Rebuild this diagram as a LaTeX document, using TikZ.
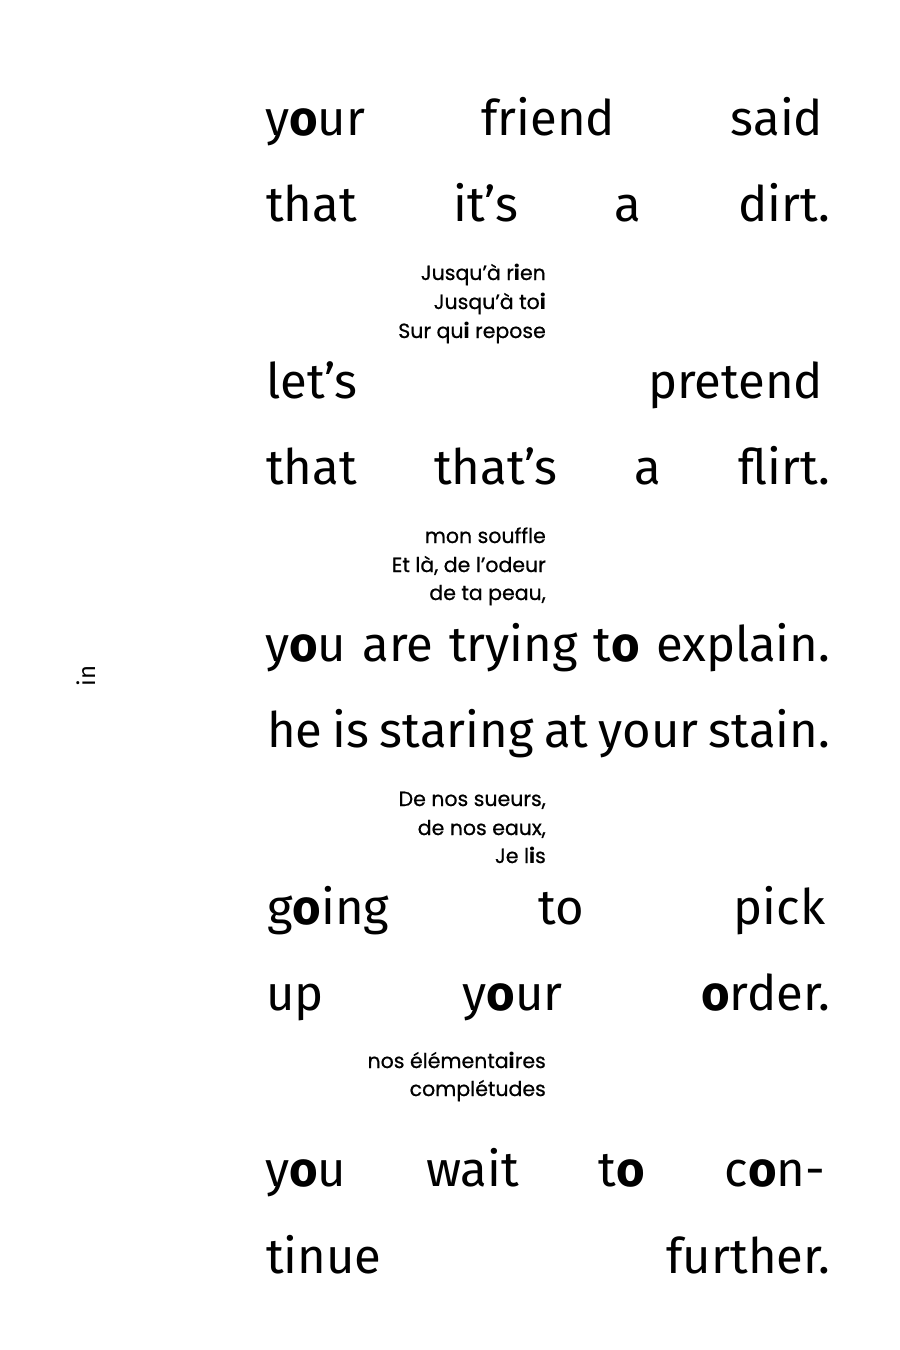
\documentclass[tikz,border=0pt]{standalone}
\usepackage{fontspec}
\setmainfont{Fira Sans}
\newfontfamily\smallfont{Poppins}[UprightFeatures={FakeBold=0.7}]
\newcommand\bldo{\textbf{o}}
\newcommand\bldi{\textbf{i}}
\newcommand\gap{\hskip 8pt plus 1fill minus 8pt\relax}
\begin{document}
\begin{tikzpicture}[x=1pt,y=-1pt,
  big/.style={anchor=base west, inner sep=0pt, font=\fontsize{49}{49}\selectfont},
  smalltext/.style={anchor=base east, inner sep=0pt, font=\smallfont\fontsize{20.5}{20.5}\selectfont},
  side/.style={inner sep=0pt, rotate=90, font=\fontsize{24}{24}\selectfont}]
\path[use as bounding box, fill=white] (0,0) rectangle (900,1350);
% pair 1
\node[big] (l1) at (265,135) {\hbox to 558pt{y\bldo ur\gap friend\gap said}};
\node[big] (l2) at (266,221) {\hbox to 564pt{that\gap it’s\gap a\gap dirt.}};
\node[smalltext] (s1a) at (546,280) {Jusqu’à r\bldi en};
\node[smalltext] (s1b) at (546,309) {Jusqu’à to\bldi};
\node[smalltext] (s1c) at (546,338) {Sur qu\bldi{} repose};
% pair 2
\node[big] (l3) at (266,398) {\hbox to 557pt{let’s\gap pretend}};
\node[big] (l4) at (266,484) {\hbox to 564pt{that\gap that’s\gap a\gap flirt.}};
\node[smalltext] (s2a) at (546,543) {mon souffle};
\node[smalltext] (s2b) at (546,572) {Et là, de l’odeur};
\node[smalltext] (s2c) at (546,600) {de ta peau,};
% pair 3
\node[big] (l5) at (265,661) {\hbox to 565pt{y\bldo u\gap are\gap trying\gap t\bldo\gap explain.}};
\node[big] (l6) at (267,747) {\hbox to 563pt{he\gap is\gap staring\gap at\gap your\gap stain.}};
\node[smalltext] (s3a) at (546,806) {De nos sueurs,};
\node[smalltext] (s3b) at (546,835) {de nos eaux,};
\node[smalltext] (s3c) at (546,863) {Je l\bldi s};
% pair 4
\node[big] (l7) at (267,924) {\hbox to 558pt{g\bldo ing\gap to\gap pick}};
\node[big] (l8) at (266,1010) {\hbox to 564pt{up\gap y\bldo ur\gap \bldo rder.}};
\node[smalltext] (s4a) at (546,1068) {nos élémenta\bldi res};
\node[smalltext] (s4b) at (546,1096) {complétudes};
% pair 5
\node[big] (l9) at (265,1186) {\hbox to 560pt{y\bldo u\gap wait\gap t\bldo\gap c\bldo n-}};
\node[big] (l10) at (266,1273) {\hbox to 564pt{tinue\gap further.}};
% side word
\node[side] (in) at (86,676) {in};
\end{tikzpicture}
\end{document}
